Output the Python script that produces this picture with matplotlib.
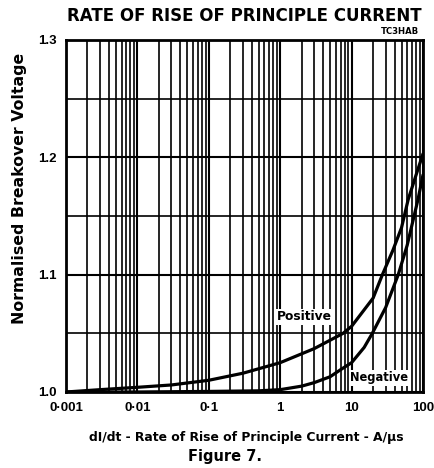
import matplotlib
matplotlib.use("Agg")
import matplotlib.pyplot as plt
from matplotlib.ticker import FixedLocator, NullFormatter, LogLocator

plt.rcParams['font.family'] = ['DejaVu Sans']
plt.rcParams['font.weight'] = 'bold'

# data
pos_x = [0.001, 0.003, 0.01, 0.03, 0.1, 0.3, 1, 3, 7.6, 10, 20, 27, 38, 50, 62, 80, 100]
pos_y = [1.000, 1.002, 1.004, 1.006, 1.010, 1.016, 1.025, 1.037, 1.050, 1.056, 1.080, 1.100, 1.121, 1.140, 1.164, 1.185, 1.203]
neg_x = [0.001, 0.01, 0.1, 0.5, 1, 2, 3, 5, 7, 10, 15, 19.5, 30, 45, 60, 85, 100]
neg_y = [1.000, 1.000, 1.0005, 1.001, 1.002, 1.005, 1.008, 1.013, 1.019, 1.025, 1.038, 1.050, 1.072, 1.100, 1.125, 1.164, 1.185]

x_ticks = [0.001, 0.01, 0.1, 1, 10, 100]
x_labels = ['0·001', '0·01', '0·1', '1', '10', '100']
y_ticks = [1.0, 1.1, 1.2, 1.3]
y_labels = ['1.0', '1.1', '1.2', '1.3']

W, H = 435, 468
fig = plt.figure(figsize=(W/100, H/100), dpi=100)
ax = fig.add_axes([66/W, 1 - 392/H, (423 - 66)/W, (392 - 40)/H])

ax.set_xscale('log')
ax.set_xlim(0.001, 100)
ax.set_ylim(1.0, 1.3)

ax.plot(pos_x, pos_y, color='black', lw=2.3, zorder=4, solid_capstyle='round')
ax.plot(neg_x, neg_y, color='black', lw=2.3, zorder=4, solid_capstyle='round')

tick_font = dict(family=['Liberation Sans', 'DejaVu Sans'], weight='bold', size=9.5)
ax.set_xticks(x_ticks)
ax.set_xticklabels(x_labels, fontdict=tick_font)
ax.xaxis.set_minor_locator(LogLocator(base=10, subs=range(2, 10)))
ax.xaxis.set_minor_formatter(NullFormatter())
ax.set_yticks(y_ticks)
ax.set_yticklabels(y_labels, fontdict=tick_font)
ax.yaxis.set_minor_locator(FixedLocator([1.05, 1.15, 1.25]))

ax.grid(which='major', axis='both', color='black', lw=1.5)
ax.grid(which='minor', axis='both', color='black', lw=1.2)
ax.set_axisbelow(True)
ax.tick_params(which='both', length=0)
ax.tick_params(axis='x', pad=7)
ax.tick_params(axis='y', pad=7)
for s in ax.spines.values():
    s.set_linewidth(2.0)

t_pos = ax.text(2.15, 1.064, 'Positive', ha='center', va='center', fontsize=8, fontweight='bold',
                bbox=dict(facecolor='white', edgecolor='none', pad=1.0), zorder=5)
t_neg = ax.text(24.2, 1.012, 'Negative', ha='center', va='center', fontsize=8, fontweight='bold',
                bbox=dict(facecolor='white', edgecolor='none', pad=1.0), zorder=5)

t_title = fig.text(244/W, 1 - 16/H, 'RATE OF RISE OF PRINCIPLE CURRENT', ha='center', va='center',
                   fontsize=12.5, fontweight='bold')
t_code = fig.text(419/W, 1 - 31/H, 'TC3HAB', ha='right', va='center', fontsize=5, fontweight='bold')
t_ylab = fig.text(20/W, 1 - 188/H, 'Normalised Breakover Voltage', rotation=90, ha='center', va='center',
                  fontsize=8, fontweight='bold')
t_xlab = fig.text(246/W, 1 - 437/H, 'dI/dt - Rate of Rise of Principle Current - A/μs', ha='center',
                  va='center', fontsize=7.5, fontweight='bold')
t_fig = fig.text(225/W, 1 - 456/H, 'Figure 7.', ha='center', va='center', fontsize=10, fontweight='bold')

# scale font sizes so that the texts span the same extent as in the reference
targets = [(t_title, 354, 'w'), (t_code, 38, 'w'), (t_ylab, 270, 'h'), (t_xlab, 315, 'w'),
           (t_fig, 74, 'w'), (t_pos, 55, 'w'), (t_neg, 58, 'w')]
fig.canvas.draw()
r = fig.canvas.get_renderer()
for t, target, dim in targets:
    for _ in range(2):
        bb = t.get_window_extent(renderer=r)
        size = bb.width if dim == 'w' else bb.height
        t.set_fontsize(t.get_fontsize() * target / size)

fig.savefig('out.png', dpi=100)
